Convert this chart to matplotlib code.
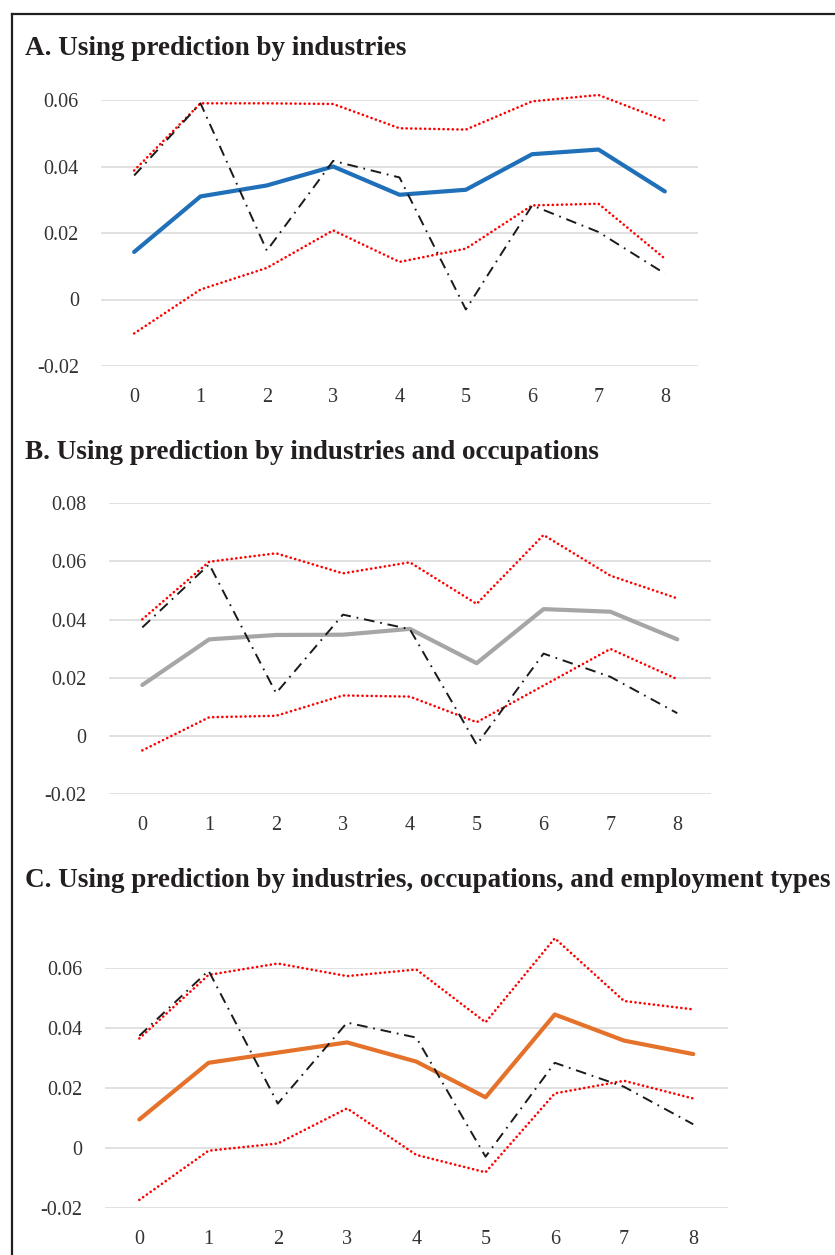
import matplotlib
matplotlib.use("Agg")
import matplotlib.pyplot as plt
from matplotlib.lines import Line2D

# horizon (categories on the x axis)
horizons = [0, 1, 2, 3, 4, 5, 6, 7, 8]

# common dash-dot reference series (same in all three panels)
reference = [0.0373, 0.0590, 0.0147, 0.0417, 0.0367, -0.0030, 0.0283, 0.0203, 0.0078]

# panel A: prediction by industries
a_est = [0.0143, 0.0310, 0.0343, 0.0400, 0.0315, 0.0330, 0.0437, 0.0451, 0.0325]
a_upper = [0.0388, 0.0590, 0.0590, 0.0588, 0.0515, 0.0511, 0.0596, 0.0615, 0.0538]
a_lower = [-0.0102, 0.0030, 0.0095, 0.0208, 0.0113, 0.0153, 0.0283, 0.0288, 0.0123]

# panel B: prediction by industries and occupations
b_est = [0.0175, 0.0332, 0.0347, 0.0348, 0.0368, 0.0250, 0.0436, 0.0427, 0.0332]
b_upper = [0.0401, 0.0599, 0.0628, 0.0559, 0.0597, 0.0454, 0.0691, 0.0551, 0.0473]
b_lower = [-0.0050, 0.0064, 0.0069, 0.0139, 0.0135, 0.0047, 0.0173, 0.0299, 0.0195]

# panel C: prediction by industries, occupations, and employment types
c_est = [0.0094, 0.0283, 0.0317, 0.0351, 0.0287, 0.0168, 0.0444, 0.0357, 0.0312]
c_upper = [0.0364, 0.0576, 0.0614, 0.0572, 0.0594, 0.0418, 0.0698, 0.0489, 0.0461]
c_lower = [-0.0174, -0.0010, 0.0014, 0.0131, -0.0024, -0.0082, 0.0181, 0.0223, 0.0164]

titles = ["A. Using prediction by industries",
          "B. Using prediction by industries and occupations",
          "C. Using prediction by industries, occupations, and employment types"]

W, H = 835, 1255
fig = plt.figure(figsize=(W / 100, H / 100), dpi=100)
fig.patch.set_facecolor("white")

serif = "Liberation Serif"
txt_color = "#231f20"


def px_axes(left, right, top, bottom):
    return fig.add_axes([left / W, 1 - bottom / H, (right - left) / W, (bottom - top) / H])


def panel(ax, est, upper, lower, color, yticks):
    ax.set_xlim(-0.5, 8.5)
    ax.set_ylim(yticks[0], yticks[-1])
    ax.set_yticks(yticks)
    ax.set_yticklabels(["0" if abs(v) < 1e-9 else "%g" % v for v in yticks])
    ax.set_xticks(horizons)
    ax.set_xticklabels([str(h) for h in horizons])
    ax.grid(axis="y", color="#d9d9d9", lw=1.1)
    ax.set_axisbelow(True)
    for s in ax.spines.values():
        s.set_visible(False)
    ax.tick_params(length=0, labelsize=14.5, labelcolor="#333333")
    ax.tick_params(axis="y", pad=16)
    ax.tick_params(axis="x", pad=16)
    for lab in ax.get_xticklabels() + ax.get_yticklabels():
        lab.set_fontfamily(serif)

    for band in (upper, lower):
        ax.plot(horizons, band, color="#ff0000", lw=1.9, linestyle=(0, (0.05, 1.7)),
                dash_capstyle="round", clip_on=False, zorder=2)
    ax.plot(horizons, est, color=color, lw=3.0, solid_capstyle="round",
            solid_joinstyle="round", clip_on=False, zorder=3)
    ax.plot(horizons, reference, color="#1a1a1a", lw=1.4, linestyle=(0, (5.5, 3.0, 0.9, 3.0)),
            clip_on=False, zorder=4)


axA = px_axes(101, 698, 100, 366)
panel(axA, a_est, a_upper, a_lower, "#1f70b8", [-0.02, 0, 0.02, 0.04, 0.06])

axB = px_axes(108.9, 710.7, 503.3, 794)
panel(axB, b_est, b_upper, b_lower, "#a6a6a8", [-0.02, 0, 0.02, 0.04, 0.06, 0.08])

axC = px_axes(104.7, 727.9, 967.7, 1207.7)
panel(axC, c_est, c_upper, c_lower, "#e4722a", [-0.02, 0, 0.02, 0.04, 0.06])

for title, base in zip(titles, [55, 459, 886.7]):
    fig.text(25 / W, 1 - base / H, title, ha="left", va="baseline", fontsize=19.5,
             fontweight="bold", family=serif, color=txt_color)

# frame around the figure (left and top edges visible)
fig.add_artist(Line2D([12 / W, 12 / W], [0, 1 - 13.5 / H], color=txt_color, lw=1.6,
                      transform=fig.transFigure))
fig.add_artist(Line2D([11.5 / W, 1], [1 - 13.5 / H, 1 - 13.5 / H], color=txt_color, lw=1.6,
                      transform=fig.transFigure))

fig.savefig("out.png", dpi=100)
